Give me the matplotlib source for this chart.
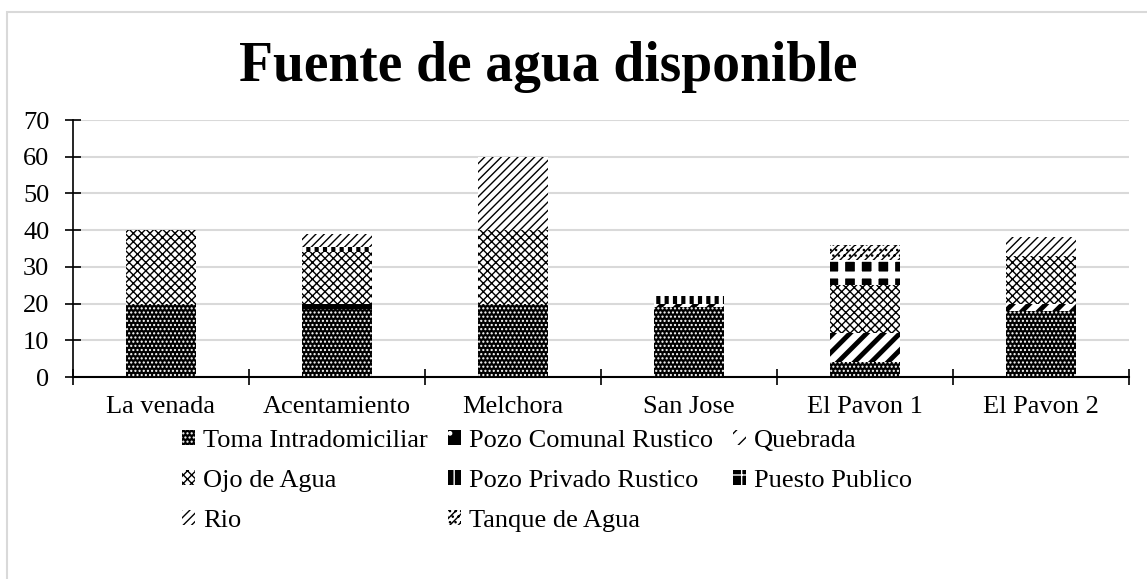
import numpy as np
import matplotlib
matplotlib.use('Agg')
from matplotlib import pyplot as plt
from matplotlib.patches import Rectangle

#------------------------------------------------------------
# data
categories = ['La venada', 'Acentamiento', 'Melchora', 'San Jose',
              'El Pavon 1', 'El Pavon 2']
series = ['Toma Intradomiciliar', 'Pozo Comunal Rustico', 'Quebrada',
          'Ojo de Agua', 'Pozo Privado Rustico', 'Puesto Publico',
          'Rio', 'Tanque de Agua']
toma = [20, 18.5, 20, 19, 4, 18]
pozo_comunal = [0, 1.5, 0, 0, 0, 0]
quebrada = [0, 0, 0, 1, 8, 2]
ojo_agua = [20, 14, 20, 0, 13, 13]
pozo_privado = [0, 1.5, 0, 2, 0, 0]
puesto_publico = [0, 0, 0, 0, 7, 0]
rio = [0, 3.5, 20, 0, 0, 5]
tanque = [0, 0, 0, 0, 4, 0]
values = [toma, pozo_comunal, quebrada, ojo_agua, pozo_privado,
          puesto_publico, rio, tanque]

# (facecolor, hatch colour, hatch, hatch linewidth)
styles = [('black', 'white', '....', 1.0),
          ('black', 'white', '.', 1.0),
          ('white', 'black', '//', 3.5),
          ('white', 'black', 'xxxx', 1.0),
          ('black', 'white', '||', 3.0),
          ('black', 'white', '+', 5.0),
          ('white', 'black', '////', 1.0),
          ('white', 'black', '////...', 1.0)]

plt.rcParams['font.family'] = ['Liberation Serif', 'DejaVu Serif']

fig = plt.figure(figsize=(11.47, 5.79), dpi=100)
ax = fig.add_axes([73 / 1147, 1 - 377 / 579, (1129 - 73) / 1147, (377 - 120) / 579])

x = np.arange(len(categories))
bottom = np.zeros(len(categories))
for name, vals, (fc, hc, h, hlw) in zip(series, values, styles):
    vals = np.array(vals, dtype=float)
    with plt.rc_context({'hatch.linewidth': hlw}):
        bars = ax.bar(x, vals, width=0.4, bottom=bottom, color=fc,
                      edgecolor=hc, hatch=h, linewidth=0, label=name,
                      zorder=3)
    for p in bars:
        if hasattr(p, 'set_hatch_linewidth'):
            p.set_hatch_linewidth(hlw)
    bottom += vals

ax.set_xlim(-0.5, len(categories) - 0.5)
ax.set_ylim(0, 70)
ax.set_yticks(range(0, 71, 10))
ax.set_xticks(x)
ax.set_xticklabels(categories)
ax.set_xticks(np.arange(-0.5, len(categories)), minor=True)
ax.tick_params(axis='x', which='major', length=0, pad=14, labelsize=19)
ax.tick_params(axis='x', which='minor', length=12, direction='inout', width=1.2)
ax.tick_params(axis='y', length=12, direction='inout', width=1.2,
               labelsize=19, pad=11)
ax.yaxis.grid(True, color='#d9d9d9', linewidth=1.5, zorder=0)
ax.set_axisbelow(True)
for side in ['top', 'right']:
    ax.spines[side].set_visible(False)
ax.spines['left'].set_linewidth(1.2)
ax.spines['bottom'].set_linewidth(1.5)

fig.text(548 / 1147, 1 - 67 / 579, 'Fuente de agua disponible', ha='center',
         va='center', fontsize=40, fontweight='bold')

handles, labels = ax.get_legend_handles_labels()
# reorder so rows read left to right like the original
order = [0, 3, 6, 1, 4, 7, 2, 5]
leg = fig.legend([handles[i] for i in order], [labels[i] for i in order],
                 loc='upper left', bbox_to_anchor=(169 / 1147, 1 - 417 / 579),
                 ncol=3, frameon=False, fontsize=19, handlelength=0.5,
                 handleheight=0.5, handletextpad=0.3, columnspacing=0.75,
                 labelspacing=0.68, borderpad=0)

fig.patches.append(Rectangle((7 / 1147, -0.05), 1.2, 1 - 12 / 579 + 0.05,
                             transform=fig.transFigure, fill=False,
                             edgecolor='#d9d9d9', linewidth=1.5))

plt.savefig('out.png', dpi=100)
